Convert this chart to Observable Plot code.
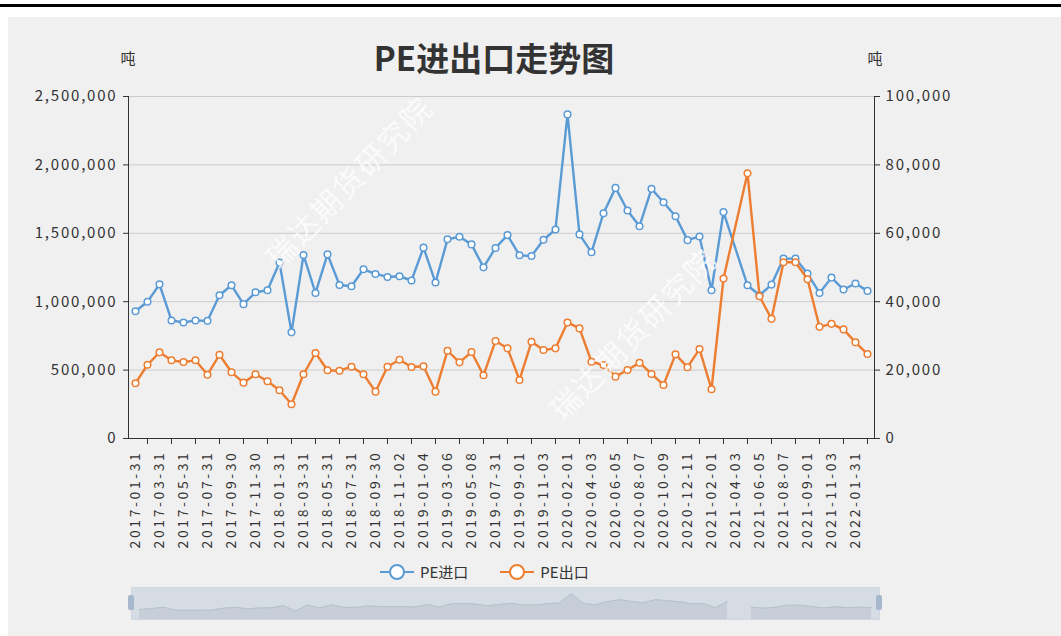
<!DOCTYPE html>
<html><head><meta charset="utf-8">
<script src="https://cdn.jsdelivr.net/npm/d3@7"></script>
<script src="https://cdn.jsdelivr.net/npm/@observablehq/plot@0.6"></script>
<style>
html,body{margin:0;padding:0;background:#fff;}
#page{position:relative;width:1061px;height:636px;overflow:hidden;font-family:"Noto Sans CJK SC","Noto Sans",sans-serif;color:#333;}
#topline{position:absolute;left:0;top:4px;width:1061px;height:3px;background:#000;}
#panel{position:absolute;left:8px;top:17px;width:1053px;height:619px;background:#f0f0f0;}
#title{position:absolute;left:0;width:988px;text-align:center;top:39px;line-height:36px;font-size:33px;font-weight:bold;color:#333;}
.unit{position:absolute;top:49px;font-size:15px;line-height:18px;transform:translateX(-50%);color:#333;}
#main{position:absolute;left:0;top:0;}
#dz{position:absolute;left:0;top:580px;}
#legend{position:absolute;left:380px;top:561px;display:flex;align-items:center;font-size:15px;color:#333;}
#legend .item{display:flex;align-items:center;}
#legend svg{margin-right:6px;}
.wm{position:absolute;font-size:30px;color:#fff;opacity:0.75;white-space:nowrap;transform:translate(-50%,-50%) rotate(-46deg);letter-spacing:2px;pointer-events:none;}
.handle{position:absolute;width:6px;height:15px;background:#a7b7cc;border-radius:2px;top:595px;transform:translateX(-50%);}
g[aria-label="x-axis tick label"] text{letter-spacing:2.6px;}
g[aria-label="y-axis tick label"] text{letter-spacing:1.8px;}
</style>
</head><body>
<div id="page">
  <div id="topline"></div>
  <div id="panel"></div>
  <div id="title">PE进出口走势图</div>
  <div class="unit" style="left:128px">吨</div>
  <div class="unit" style="left:875px">吨</div>
  <div id="main"></div>
  <div id="legend"></div>
  <div id="dz"></div>
  <div class="handle" style="left:131px"></div>
  <div class="handle" style="left:879px"></div>
  <div class="wm" style="left:348px;top:181px">瑞达期货研究院</div>
  <div class="wm" style="left:632px;top:333px">瑞达期货研究院</div>
</div>
<script>
// categories (only even ones are shown as labels)
const dates = [
"2017-01-31","2017-02-28","2017-03-31","2017-04-30","2017-05-31","2017-06-30","2017-07-31","2017-08-31",
"2017-09-30","2017-10-31","2017-11-30","2017-12-31","2018-01-31","2018-02-28","2018-03-31","2018-04-30",
"2018-05-31","2018-06-30","2018-07-31","2018-08-31","2018-09-30","2018-10-01","2018-11-02","2018-12-03",
"2019-01-04","2019-02-04","2019-03-06","2019-04-06","2019-05-08","2019-06-07","2019-07-31","2019-08-31",
"2019-09-01","2019-10-02","2019-11-03","2019-12-31","2020-02-01","2020-03-03","2020-04-03","2020-05-04",
"2020-06-05","2020-07-06","2020-08-07","2020-09-08","2020-10-09","2020-11-10","2020-12-11","2020-12-31",
"2021-02-01","2021-03-03","2021-04-03","2021-05-04","2021-06-05","2021-07-06","2021-08-07","2021-08-31",
"2021-09-01","2021-10-02","2021-11-03","2021-12-31","2022-01-31","2022-02-28"];

// PE进口 (吨), left axis
const peImport = [
930000,1000000,1127000,863000,848000,863000,860000,1047000,
1120000,982000,1069000,1084000,1286000,776000,1341000,1064000,
1346000,1122000,1113000,1237000,1203000,1181000,1186000,1155000,
1395000,1140000,1456000,1475000,1419000,1251000,1393000,1487000,
1339000,1334000,1453000,1528000,2369000,1492000,1361000,1647000,
1832000,1667000,1552000,1825000,1727000,1625000,1450000,1477000,
1084000,1655000,null,1120000,1047000,1125000,1315000,1315000,
1206000,1064000,1176000,1089000,1133000,1079000];

// PE出口 (吨), right axis
const peExport = [
16150,21570,25190,22860,22360,22860,18660,24490,
19360,16330,18780,16740,14110,10030,18780,24990,
19940,19830,20990,18780,13700,20990,23030,20900,
21110,13700,25660,22270,25280,18480,28530,26360,
17110,28280,25860,26360,33940,32190,22450,21490,
18080,20030,22160,18860,15660,24610,20850,26150,
14400,46760,null,77550,41600,34990,51520,51520,
46560,32650,33530,31900,28110,24690];

const leftTicks = [0,500000,1000000,1500000,2000000,2500000];
const rightTicks = [0,20000,40000,60000,80000,100000];

const seriesNames = ["PE进口","PE出口"];
const colors = ["#5b9bd5","#ed7d31"];

const n = dates.length;
const ratio = leftTicks[leftTicks.length-1] / rightTicks[rightTicks.length-1];
const idx = d3.range(n);
const imp = idx.map(i => ({i, v: peImport[i] == null ? NaN : peImport[i]}));
const exp = idx.map(i => ({i, v: peExport[i] == null ? NaN : peExport[i]}));
const impOk = imp.filter(d => !isNaN(d.v));
const expOk = exp.filter(d => !isNaN(d.v));
const fmt = d3.format(",");
const font = '"Noto Sans CJK SC","Noto Sans",sans-serif';

const main = Plot.plot({
  width: 1061, height: 560,
  marginLeft: 128, marginRight: 187, marginTop: 96, marginBottom: 122,
  style: {background: "transparent", fontSize: "15px", fontFamily: font, color: "#333", overflow: "visible"},
  x: {type: "point", domain: idx, padding: 0.5, axis: null, label: null},
  y: {domain: [leftTicks[0], leftTicks[leftTicks.length-1]], axis: null, label: null},
  marks: [
    Plot.gridY(leftTicks.slice(1), {stroke: "#cccccc", strokeOpacity: 1, strokeWidth: 1}),
    Plot.frame({anchor: "left", stroke: "#333"}),
    Plot.frame({anchor: "right", stroke: "#333"}),
    Plot.frame({anchor: "bottom", stroke: "#333"}),
    Plot.axisY(leftTicks, {anchor: "left", label: null, tickSize: 5, tickPadding: 6, tickFormat: fmt, stroke: "#333"}),
    Plot.axisY(rightTicks.map(v => v * ratio), {anchor: "right", label: null, tickSize: 5, tickPadding: 6, tickFormat: v => fmt(Math.round(v / ratio)), stroke: "#333"}),
    Plot.axisX(idx.filter(i => i % 2 === 1), {anchor: "bottom", label: null, tickSize: 6, tickFormat: () => "", stroke: "#333"}),
    Plot.axisX(idx.filter(i => i % 2 === 0), {anchor: "bottom", label: null, tickSize: 0, tickPadding: 12, tickRotate: -90, tickFormat: i => dates[i], fontSize: 14}),
    Plot.line(impOk, {x: "i", y: "v", stroke: colors[0], strokeWidth: 2.4}),
    Plot.dot(impOk, {x: "i", y: "v", r: 3.3, fill: "#fff", stroke: colors[0], strokeWidth: 1.5}),
    Plot.line(expOk, {x: "i", y: d => d.v * ratio, stroke: colors[1], strokeWidth: 2.4}),
    Plot.dot(expOk, {x: "i", y: d => d.v * ratio, r: 3.3, fill: "#fff", stroke: colors[1], strokeWidth: 1.5})
  ]
});
document.getElementById("main").appendChild(main);

// legend
const leg = document.getElementById("legend");
seriesNames.forEach((name, k) => {
  const item = document.createElement("div");
  item.className = "item";
  item.style.marginRight = k === 0 ? "32px" : "0";
  item.innerHTML = `<svg width="34" height="18"><line x1="0" x2="34" y1="9" y2="9" stroke="${colors[k]}" stroke-width="2"/><circle cx="17" cy="9" r="7" fill="#fff" stroke="${colors[k]}" stroke-width="2"/></svg><span>${name}</span>`;
  leg.appendChild(item);
});

// dataZoom slider with import shadow (gap where data is missing)
const dz = Plot.plot({
  width: 1061, height: 42,
  marginLeft: 131, marginRight: 182, marginTop: 7, marginBottom: 3,
  style: {background: "transparent", overflow: "visible"},
  x: {type: "point", domain: idx, padding: 0, axis: null, label: null},
  y: {domain: [0, 2950000], axis: null, label: null},
  marks: [
    Plot.frame({fill: "rgba(167,183,204,0.35)", stroke: "#d0d7e0"}),
    Plot.areaY(imp, {x: "i", y1: 0, y2: "v", fill: "#c3cad4", fillOpacity: 0.8}),
    Plot.line(imp, {x: "i", y: "v", stroke: "#b7c0cc", strokeWidth: 1})
  ]
});
document.getElementById("dz").appendChild(dz);
</script>
</body></html>
